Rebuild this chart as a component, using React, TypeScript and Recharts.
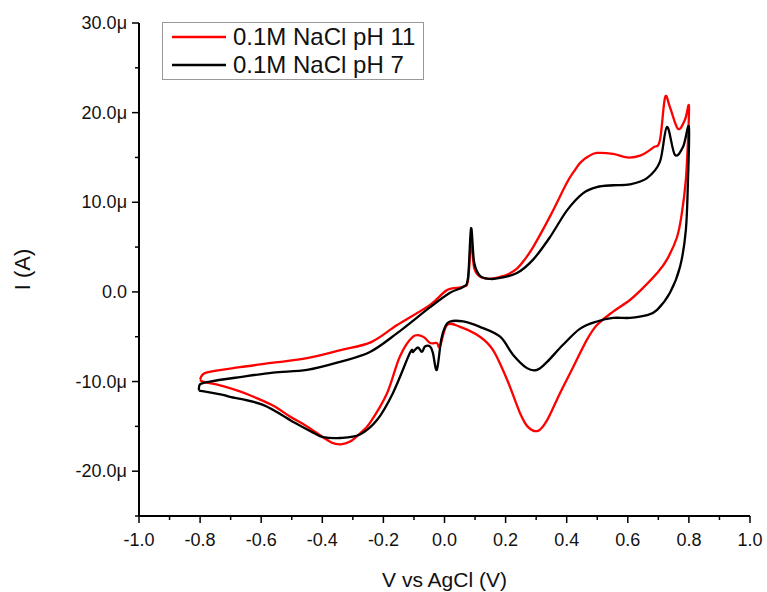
import React from 'react';
import { LineChart, Line, XAxis, YAxis, Legend } from 'recharts';

// potential (V vs AgCl) and current (µA), one closed scan per series
const redV = [
  -0.8, -0.78, -0.67, -0.56, -0.45, -0.34, -0.24, -0.155, -0.047, 0.008, 0.061, 0.077, 0.087, 0.097,
  0.116, 0.149, 0.182, 0.21, 0.237, 0.26, 0.29, 0.345, 0.401, 0.425, 0.444, 0.47, 0.499, 0.552, 0.597,
  0.64, 0.683, 0.705, 0.722, 0.738, 0.764, 0.787, 0.8,
  0.797, 0.79, 0.777, 0.761, 0.728, 0.696, 0.65, 0.607, 0.552, 0.499, 0.466, 0.421, 0.378, 0.336,
  0.306, 0.273, 0.247, 0.205, 0.159, 0.116, 0.051, 0.008, -0.015, -0.025, -0.047, -0.07, -0.103,
  -0.146, -0.188, -0.244, -0.277, -0.309, -0.34, -0.37, -0.418, -0.46, -0.506, -0.56, -0.615, -0.67,
  -0.725, -0.791, -0.8,
];
const redI = [
  -9.8, -9.0, -8.4, -7.9, -7.4, -6.5, -5.6, -3.7, -1.45, 0.2, 0.56, 1.3, 5.5, 2.7,
  1.7, 1.45, 1.67, 2.0, 2.6, 3.5, 5.0, 8.4, 12.2, 13.5, 14.4, 15.1, 15.5, 15.4, 15.0,
  15.2, 16.1, 16.9, 21.7, 20.6, 18.2, 19.2, 20.8,
  16.9, 12.5, 8.8, 6.1, 3.6, 2.1, 0.45, -0.9, -2.2, -3.7, -5.35, -8.4, -11.3, -14.3,
  -15.5, -15.05, -13.5, -9.8, -6.5, -5.0, -3.9, -3.7, -6.1, -5.7, -5.7, -5.0, -5.0,
  -7.2, -11.3, -14.6, -15.8, -16.7, -17.0, -16.8, -15.75, -14.8, -13.9, -12.7, -11.85, -11.1,
  -10.5, -10.0, -9.8,
];

const blackV = [
  -0.804, -0.8, -0.768, -0.669, -0.561, -0.45, -0.342, -0.244, -0.155, -0.047, 0.018, 0.061, 0.077,
  0.087, 0.097, 0.116, 0.149, 0.182, 0.237, 0.29, 0.345, 0.401, 0.453, 0.499, 0.552, 0.607, 0.663,
  0.705, 0.728, 0.754, 0.781, 0.8,
  0.797, 0.79, 0.771, 0.738, 0.696, 0.663, 0.607, 0.552, 0.499, 0.444, 0.388, 0.336, 0.303,
  0.27, 0.224, 0.182, 0.116, 0.061, 0.018, 0.002, -0.011, -0.025, -0.038, -0.047, -0.064, -0.074,
  -0.087, -0.103, -0.113, -0.169, -0.221, -0.277, -0.342, -0.398, -0.43, -0.49, -0.594, -0.702,
  -0.725, -0.804,
];
const blackI = [
  -11.0, -10.3, -10.0, -9.5, -9.0, -8.7, -7.8, -6.7, -4.6, -1.7, -0.1, 0.56, 1.6,
  7.1, 3.3, 1.8, 1.45, 1.56, 2.1, 3.6, 6.1, 9.1, 11.0, 11.7, 11.9, 12.0, 12.7,
  14.5, 18.4, 15.3, 16.2, 18.4,
  12.5, 6.9, 2.8, -0.1, -2.0, -2.6, -2.9, -2.9, -3.3, -4.1, -5.9, -7.8, -8.7,
  -8.5, -7.0, -5.0, -3.9, -3.3, -3.3, -3.9, -5.35, -8.7, -6.8, -6.1, -6.1, -6.7,
  -6.2, -6.7, -6.8, -11.3, -14.3, -15.9, -16.3, -16.2, -15.7, -14.6, -12.6, -11.7,
  -11.5, -11.0,
];

const xTicks = [-1.0, -0.9, -0.8, -0.7, -0.6, -0.5, -0.4, -0.3, -0.2, -0.1, 0.0, 0.1, 0.2, 0.3, 0.4, 0.5, 0.6, 0.7, 0.8, 0.9, 1.0];
const yTicks = [-25, -20, -15, -10, -5, 0, 5, 10, 15, 20, 25, 30];

const redData = redV.map((v, k) => ({ v, i: redI[k] }));
const blackData = blackV.map((v, k) => ({ v, i: blackI[k] }));

const FONT = '"Liberation Sans", Arial, sans-serif';

const isMajorX = (v: number) => Math.abs(Math.round(v * 10)) % 2 === 0;
const isMajorY = (v: number) => Math.abs(v) % 10 === 0;

const formatY = (v: number) => (v === 0 ? '0.0' : `${v.toFixed(1)}μ`);

// Catmull-Rom style curve, the scans loop back on themselves so monotone curves won't do
const T = 1 / 6;
const smoothCurve = (context: any) => {
  let pts: number[][] = [];
  return {
    areaStart() {},
    areaEnd() {},
    lineStart() {
      pts = [];
    },
    lineEnd() {
      pts.forEach(([x, y], k) => {
        if (k === 0) {
          context.moveTo(x, y);
          return;
        }
        const p0 = pts[k - 2] ?? pts[k - 1];
        const p1 = pts[k - 1];
        const p3 = pts[k + 1] ?? [x, y];
        context.bezierCurveTo(
          p1[0] + (x - p0[0]) * T,
          p1[1] + (y - p0[1]) * T,
          x - (p3[0] - p1[0]) * T,
          y - (p3[1] - p1[1]) * T,
          x,
          y,
        );
      });
    },
    point(x: number, y: number) {
      pts.push([x, y]);
    },
  };
};

const XTick = (props: any) => {
  const { x, y, payload } = props;
  const major = isMajorX(payload.value);
  return (
    <g>
      <line x1={x} x2={x} y1={y} y2={y + (major ? 7 : 4)} stroke="#000" strokeWidth={1.5} />
      {major && (
        <text x={x} y={y + 30} textAnchor="middle" fontSize={18} fontFamily={FONT} fill="#111">
          {payload.value.toFixed(1)}
        </text>
      )}
    </g>
  );
};

const YTick = (props: any) => {
  const { x, y, payload } = props;
  const major = isMajorY(payload.value);
  return (
    <g>
      <line x1={x} x2={x - (major ? 7 : 4)} y1={y} y2={y} stroke="#000" strokeWidth={1.5} />
      {major && (
        <text x={x - 12} y={y + 6} textAnchor="end" fontSize={18} fontFamily={FONT} fill="#111">
          {formatY(payload.value)}
        </text>
      )}
    </g>
  );
};

const LegendBox = () => (
  <div
    style={{
      border: '1px solid #999',
      background: '#fff',
      padding: '0 8px 0 9px',
      fontFamily: FONT,
      fontSize: 24,
      lineHeight: '28px',
      color: '#111',
    }}
  >
    {[
      { name: '0.1M NaCl pH 11', color: '#ff0000' },
      { name: '0.1M NaCl pH 7', color: '#000000' },
    ].map((item) => (
      <div key={item.name} style={{ display: 'flex', alignItems: 'center', whiteSpace: 'nowrap' }}>
        <svg width={54} height={10} style={{ marginRight: 7 }}>
          <line x1={0} x2={54} y1={5} y2={5} stroke={item.color} strokeWidth={2.5} />
        </svg>
        {item.name}
      </div>
    ))}
  </div>
);

export default function App() {
  return (
    <div style={{ position: 'relative', width: 767, height: 592, background: '#fff' }}>
      <style>{`body{margin:0}`}</style>
      <LineChart width={767} height={592} margin={{ top: 23, right: 17, left: 0, bottom: 0 }}>
        <XAxis
          dataKey="v"
          type="number"
          domain={[-1, 1]}
          ticks={xTicks}
          interval={0}
          tick={<XTick />}
          tickSize={0}
          tickMargin={0}
          tickLine={false}
          height={76}
          axisLine={{ stroke: '#000', strokeWidth: 2 }}
          allowDataOverflow
          label={{
            value: 'V vs AgCl (V)',
            position: 'insideBottom',
            offset: 5,
            fontSize: 21,
            fontFamily: FONT,
            fill: '#111',
          }}
        />
        <YAxis
          dataKey="i"
          type="number"
          domain={[-25, 30]}
          ticks={yTicks}
          interval={0}
          tick={<YTick />}
          tickSize={0}
          tickMargin={0}
          tickLine={false}
          width={139}
          axisLine={{ stroke: '#000', strokeWidth: 2 }}
          allowDataOverflow
          label={{
            value: 'I (A)',
            angle: -90,
            position: 'insideLeft',
            offset: 22,
            fontSize: 22,
            fontFamily: FONT,
            fill: '#111',
            style: { textAnchor: 'middle' },
          }}
        />
        <Legend
          layout="vertical"
          align="center"
          verticalAlign="middle"
          content={<LegendBox />}
          wrapperStyle={{ left: 162, top: 22, width: 'auto' }}
        />
        <Line
          data={redData}
          dataKey="i"
          name="0.1M NaCl pH 11"
          type={smoothCurve as any}
          stroke="#ff0000"
          strokeWidth={2.3}
          dot={false}
          isAnimationActive={false}
        />
        <Line
          data={blackData}
          dataKey="i"
          name="0.1M NaCl pH 7"
          type={smoothCurve as any}
          stroke="#000000"
          strokeWidth={2.3}
          dot={false}
          isAnimationActive={false}
        />
      </LineChart>
    </div>
  );
}
